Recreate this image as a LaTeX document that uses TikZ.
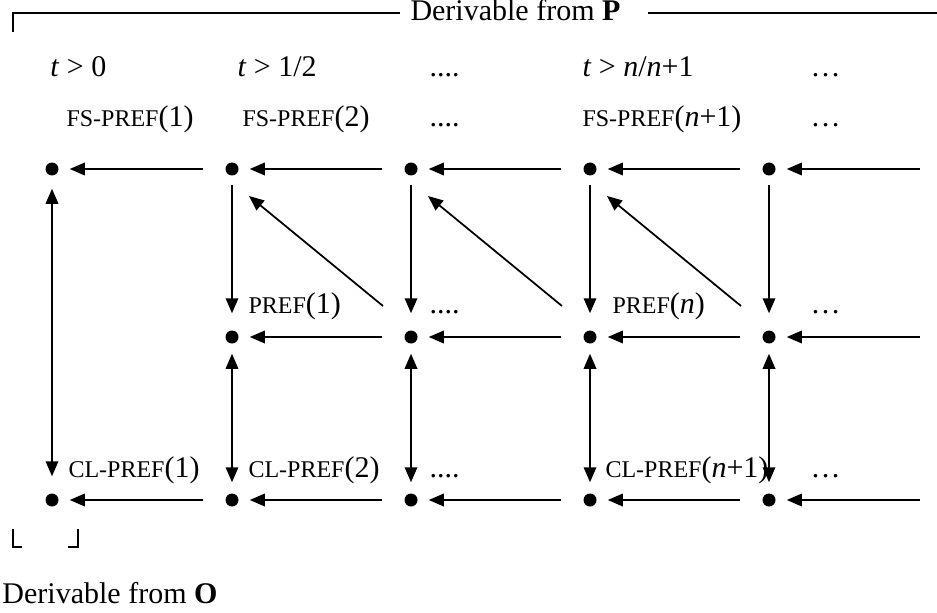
\documentclass[tikz,border=0pt]{standalone}
\usepackage{fontspec}
\setmainfont{Liberation Serif}
\usepackage{tikz}
\usetikzlibrary{calc, positioning, arrows.meta}
\newcommand{\pcaps}[1]{{\fontsize{9.6pt}{11pt}\selectfont #1}}
\tikzset{
  pt/.style={circle, fill, inner sep=0pt, minimum size=5.2pt},
  lbl/.style={anchor=base west, inner sep=0pt},
  arr/.style={-{Triangle[length=6pt, width=5pt]}, line width=0.7pt},
  darr/.style={{Triangle[length=6pt, width=5pt]}-{Triangle[length=6pt, width=5pt]}, line width=0.7pt},
  harr/.style={arr, shorten <=8.7pt, shorten >=4.3pt},
  brk/.style={line width=1.1pt},
}

\begin{document}
\begin{tikzpicture}[x=0.4pt, y=-0.4pt, font=\fontsize{12pt}{14pt}\selectfont]
  \useasboundingbox (0,0) rectangle (937,612);

  % the lattice points
  \foreach \i/\x in {1/52, 2/232, 3/411, 4/590, 5/769} {
    \node[pt] (t\i) at (\x,169) {};
    \node[pt] (b\i) at (\x,500) {};
  }
  \foreach \i/\x in {2/232, 3/411, 4/590, 5/769}
    \node[pt] (m\i) at (\x,337) {};
  \coordinate (tR) at (920,169);
  \coordinate (mR) at (920,337);
  \coordinate (bR) at (920,500);

  % horizontal arrows, right to left
  \foreach \r in {t, b}
    \foreach \i/\j in {1/2, 2/3, 3/4, 4/5}
      \draw[harr] (\r\j) -- (\r\i);
  \foreach \i/\j in {2/3, 3/4, 4/5}
    \draw[harr] (m\j) -- (m\i);
  \draw[harr, shorten <=0pt] (tR) -- (t5);
  \draw[harr, shorten <=0pt] (mR) -- (m5);
  \draw[harr, shorten <=0pt] (bR) -- (b5);

  % vertical and diagonal arrows
  \draw[darr, shorten <=5.1pt, shorten >=6.7pt] (t1) -- (b1);
  \foreach \i in {2, ..., 5} {
    \draw[arr, shorten <=3.5pt, shorten >=6.7pt] (t\i) -- (m\i);
    \draw[darr, shorten <=3.9pt, shorten >=4.3pt] (m\i) -- (b\i);
  }
  \foreach \i/\j in {2/3, 3/4, 4/5}
    \draw[arr] ([shift={(-28,-31)}]m\j.center) -- ([shift={(17,27)}]t\i.center);

  % column heads
  \node[lbl] (h1) at (50,77) {\textit{t} > 0};
  \node[lbl] (h2) at (237,77) {\textit{t} > 1/2};
  \node[lbl] (h3) at (429,77) {....};
  \node[lbl] (h4) at (582,77) {\textit{t} > \textit{n}/\textit{n}+1};
  \node[lbl] (h5) at (810,77) {…};
  \node[lbl] (f1) at (66,127) {\pcaps{FS-PREF}(1)};
  \node[lbl] (f2) at (242,127) {\pcaps{FS-PREF}(2)};
  \node[lbl] (f3) at (429,127) {....};
  \node[lbl] (f4) at (582,127) {\pcaps{FS-PREF}(\textit{n}+1)};
  \node[lbl] (f5) at (810,127) {…};

  % labels of the middle and bottom rows
  \node[lbl] (p2) at (248,313) {\pcaps{PREF}(1)};
  \node[lbl] (p3) at (429,313) {....};
  \node[lbl] (p4) at (612,313) {\pcaps{PREF}(\textit{n})};
  \node[lbl] (p5) at (810,313) {…};
  \node[lbl] (c1) at (68,477) {\pcaps{CL-PREF}(1)};
  \node[lbl] (c2) at (248,477) {\pcaps{CL-PREF}(2)};
  \node[lbl] (c3) at (429,477) {....};
  \node[lbl] (c4) at (605,477) {\pcaps{CL-PREF}(\textit{n}+1)};
  \node[lbl] (c5) at (810,477) {…};

  % derivable regions
  \node[lbl] (dP) at (410,21) {Derivable from \textbf{P}};
  \draw[brk] (13,32) -- (13,13) -- (400,13);
  \draw[brk] (648,13) -- (937,13);
  \draw[brk] (13,529) -- (13,547) -- (22,547);
  \draw[brk] (68,547) -- (78,547) -- (78,529);
  \node[lbl] (dO) at (2,603) {Derivable from \textbf{O}};
\end{tikzpicture}
\end{document}
